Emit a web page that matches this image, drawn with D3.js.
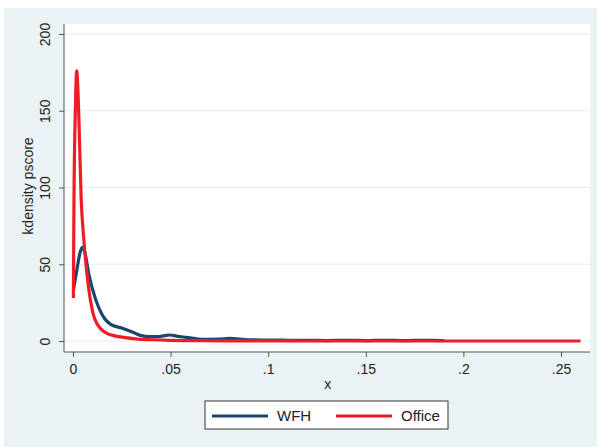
<!DOCTYPE html>
<html lang="en">
<head>
<meta charset="UTF-8">
<title>kdensity pscore</title>
<script src="https://d3js.org/d3.v7.min.js"></script>
<style>
  body { margin: 0; background: #fff; }
  text { font-family: "Liberation Sans", Arial, sans-serif; fill: #222; }
</style>
</head>
<body>
<svg width="600" height="447"></svg>
<script>
// kernel density estimates
var wfhX = [0.0002, 0.0022, 0.0035, 0.0048, 0.006, 0.0082, 0.0116, 0.015, 0.0193, 0.0253,
            0.031, 0.035, 0.039, 0.043, 0.047, 0.0497, 0.053, 0.058, 0.0666, 0.075, 0.08,
            0.09, 0.1, 0.11, 0.12, 0.13, 0.14, 0.15, 0.16, 0.17, 0.18, 0.19];
var wfhY = [33, 48, 57, 61, 58, 43, 27, 17, 10.8, 8.3,
            5.5, 3.5, 2.8, 2.8, 3.5, 3.9, 3.2, 2.4, 1.1, 1.2, 1.7,
            0.8, 0.6, 0.5, 0.5, 0.3, 0.5, 0.3, 0.4, 0.3, 0.4, 0.3];

var officeX = [0.0002, 0.0005, 0.0012, 0.0019, 0.0029, 0.0042, 0.0053, 0.006, 0.0077, 0.0099,
               0.0133, 0.0193, 0.026, 0.032, 0.04, 0.05, 0.065, 0.08, 0.1, 0.15, 0.2, 0.26];
var officeY = [28, 92, 150, 176, 150, 92, 70, 59, 37.5, 20,
               9.3, 4, 2.4, 1.4, 0.8, 0.4, 0.2, 0.1, 0.05, 0, 0, 0];

var xTicks = [0, 0.05, 0.1, 0.15, 0.2, 0.25];
var xTickLabels = ["0", ".05", ".1", ".15", ".2", ".25"];
var yTicks = [0, 50, 100, 150, 200];

var series = [
  { name: "WFH", xs: wfhX, ys: wfhY, color: "#1a476f" },
  { name: "Office", xs: officeX, ys: officeY, color: "#ee1d25" }
];

var svg = d3.select("svg");

// outer graph region
svg.append("rect")
  .attr("x", 4).attr("y", 8).attr("width", 593).attr("height", 439)
  .attr("fill", "#eaf2f3");

var plot = { left: 64, right: 590, top: 24, bottom: 352 };

svg.append("rect")
  .attr("x", plot.left).attr("y", plot.top)
  .attr("width", plot.right - plot.left).attr("height", plot.bottom - plot.top)
  .attr("fill", "#fff");

var x = d3.scaleLinear().domain([0, 0.25]).range([73, 561]);
var y = d3.scaleLinear().domain([0, 200]).range([341, 34]);

// grid
svg.append("g").selectAll("line")
  .data(yTicks)
  .join("line")
  .attr("x1", plot.left).attr("x2", plot.right)
  .attr("y1", d => y(d)).attr("y2", d => y(d))
  .attr("stroke", "#e4eef0").attr("stroke-width", 1.2);

// y axis
var yAxis = svg.append("g")
  .attr("transform", "translate(" + plot.left + ",0)")
  .call(d3.axisLeft(y).tickValues(yTicks).tickSize(5).tickFormat(d3.format("d")));
yAxis.select(".domain").attr("d", "M0," + plot.top + "V" + plot.bottom).attr("stroke", "#555");
yAxis.selectAll(".tick line").attr("stroke", "#555");
yAxis.selectAll(".tick text")
  .attr("font-size", 14)
  .attr("text-anchor", "middle")
  .attr("transform", "rotate(-90)")
  .attr("x", 0).attr("y", -14).attr("dy", "0");

// x axis
var xAxis = svg.append("g")
  .attr("transform", "translate(0," + plot.bottom + ")")
  .call(d3.axisBottom(x).tickValues(xTicks).tickSize(5).tickPadding(7)
    .tickFormat((d, i) => xTickLabels[i]));
xAxis.select(".domain").attr("d", "M" + plot.left + ",0H" + plot.right).attr("stroke", "#555");
xAxis.selectAll(".tick line").attr("stroke", "#555");
xAxis.selectAll(".tick text").attr("font-size", 14).attr("fill", "#222");

// axis titles
svg.append("text")
  .attr("x", x(0.1305)).attr("y", 389)
  .attr("text-anchor", "middle").attr("font-size", 14)
  .text("x");
svg.append("text")
  .attr("transform", "translate(33,186) rotate(-90)")
  .attr("text-anchor", "middle").attr("font-size", 14)
  .text("kdensity pscore");

// lines
var line = d3.line()
  .x(d => x(d[0])).y(d => y(d[1]))
  .curve(d3.curveMonotoneX);

series.forEach(function(s) {
  svg.append("path")
    .datum(d3.zip(s.xs, s.ys))
    .attr("fill", "none")
    .attr("stroke", s.color)
    .attr("stroke-width", 3.2)
    .attr("stroke-linejoin", "round")
    .attr("d", line);
});

// legend
var lg = svg.append("g").attr("transform", "translate(205,401)");
lg.append("rect")
  .attr("width", 243).attr("height", 28)
  .attr("fill", "#fff").attr("stroke", "#333").attr("stroke-width", 1);
var legendX = [7, 131];
series.forEach(function(s, i) {
  lg.append("line")
    .attr("x1", legendX[i]).attr("x2", legendX[i] + 56)
    .attr("y1", 15).attr("y2", 15)
    .attr("stroke", s.color).attr("stroke-width", 3.2);
  lg.append("text")
    .attr("x", legendX[i] + 65).attr("y", 20)
    .attr("font-size", 15)
    .text(s.name);
});
</script>
</body>
</html>
